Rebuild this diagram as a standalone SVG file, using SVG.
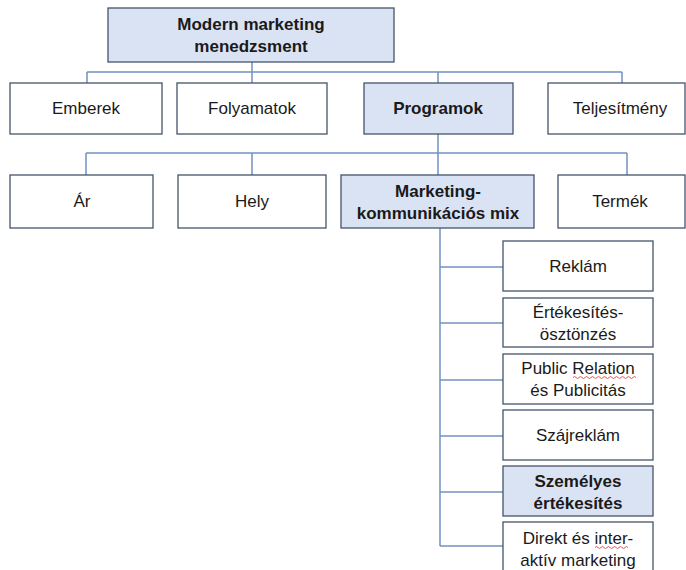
<svg xmlns="http://www.w3.org/2000/svg" width="686" height="570" viewBox="0 0 686 570">
<style>
.b{fill:#fff;stroke:#44546a;stroke-width:1.3}
.h{fill:#dae3f3;stroke:#44546a;stroke-width:1.3}
.t{font-family:"Liberation Sans",Arial,sans-serif;font-size:17px;fill:#1a1a1a;text-anchor:middle}
.tb{font-family:"Liberation Sans",Arial,sans-serif;font-size:17px;font-weight:bold;fill:#1a1a1a;text-anchor:middle}
.c{fill:none;stroke:#7391c4;stroke-width:1.5}
.sq{fill:none;stroke:#e03030;stroke-width:0.8}
</style>
<rect width="686" height="570" fill="#fff"/>
<g id="connectors">
<path class="c" d="M252 62V72M87 72H622M87 72V83M252 72V83M438 72V83M622 72V83"/>
<path class="c" d="M438 134V153M86 153H627M86 153V175M252 153V175M438 153V175M627 153V175"/>
<path class="c" d="M440 228V546M440 267H503M440 323H503M440 380H503M440 436H503M440 492H503M440 546H503"/>
</g>
<g id="n-root"><rect class="h" x="108" y="8" width="286" height="54"/><text class="tb" x="251" y="30">Modern marketing</text><text class="tb" x="251" y="52">menedzsment</text></g>
<g id="n-emberek"><rect class="b" x="10" y="83" width="152" height="51"/><text class="t" x="86" y="114">Emberek</text></g>
<g id="n-folyamatok"><rect class="b" x="177" y="83" width="150" height="51"/><text class="t" x="252" y="114">Folyamatok</text></g>
<g id="n-programok"><rect class="h" x="364" y="83" width="149" height="51"/><text class="tb" x="438" y="114">Programok</text></g>
<g id="n-teljesitmeny"><rect class="b" x="548" y="83" width="137" height="51"/><text class="t" x="620" y="114">Teljesítmény</text></g>
<g id="n-ar"><rect class="b" x="10" y="175" width="143" height="53"/><text class="t" x="82" y="207">Ár</text></g>
<g id="n-hely"><rect class="b" x="178" y="175" width="148" height="53"/><text class="t" x="252" y="207">Hely</text></g>
<g id="n-mix"><rect class="h" x="341" y="175" width="193" height="53"/><text class="tb" x="438" y="197">Marketing-</text><text class="tb" x="438" y="219">kommunikációs mix</text></g>
<g id="n-termek"><rect class="b" x="558" y="175" width="127" height="53"/><text class="t" x="620" y="207">Termék</text></g>
<g id="n-reklam"><rect class="b" x="503" y="241" width="150" height="50"/><text class="t" x="578" y="272">Reklám</text></g>
<g id="n-ertekesites"><rect class="b" x="503" y="298" width="150" height="49"/><text class="t" x="578" y="318">Értékesítés-</text><text class="t" x="578" y="340">ösztönzés</text></g>
<g id="n-pr"><rect class="b" x="503" y="354" width="150" height="50"/><text class="t" x="578" y="374">Public Relation</text><text class="t" x="578" y="396">és Publicitás</text><path class="sq" d="M573 377.5q1.5 -2 3 0t3 0t3 0t3 0t3 0t3 0t3 0t3 0t3 0t3 0t3 0t3 0t3 0t3 0t3 0t3 0t3 0t3 0t3 0t3 0t3 0"/></g>
<g id="n-szajreklam"><rect class="b" x="503" y="410" width="150" height="50"/><text class="t" x="578" y="441">Szájreklám</text></g>
<g id="n-szemelyes"><rect class="h" x="503" y="466" width="150" height="50"/><text class="tb" x="578" y="487">Személyes</text><text class="tb" x="578" y="509">értékesítés</text></g>
<g id="n-direkt"><rect class="b" x="503" y="522" width="150" height="52"/><text class="t" x="578" y="544">Direkt és inter-</text><text class="t" x="578" y="566">aktív marketing</text><path class="sq" d="M595 547.5q1.5 -2 3 0t3 0t3 0t3 0t3 0t3 0t3 0t3 0t3 0t3 0t3 0"/></g>
</svg>
